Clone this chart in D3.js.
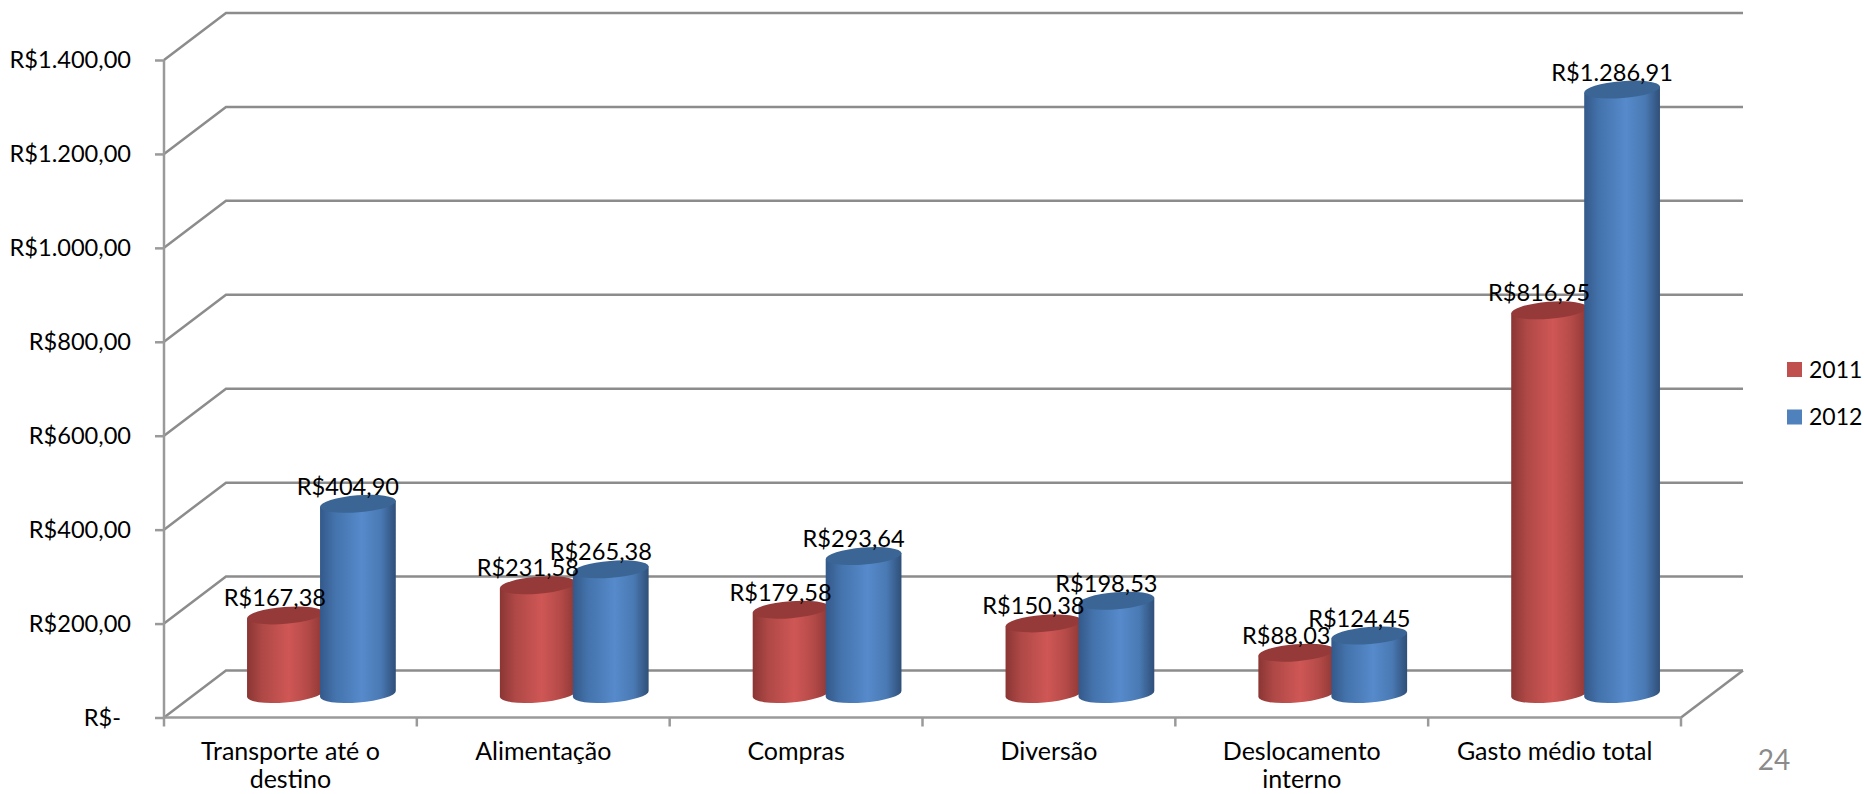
<!DOCTYPE html>
<html>
<head>
<meta charset="utf-8">
<script src="https://cdn.jsdelivr.net/npm/d3@7"></script>
<style>
    html, body { margin: 0; padding: 0; background: #fff; overflow: hidden; }
    text { font-family: Lato, "Open Sans", sans-serif; fill: #000; }
</style>
</head>
<body>
<div id="chart"></div>
<script>
var categories = ["Transporte até o destino", "Alimentação", "Compras", "Diversão", "Deslocamento interno", "Gasto médio total"];
var seriesNames = ["2011", "2012"];
var values2011 = [167.38, 231.58, 179.58, 150.38, 88.03, 816.95];
var values2012 = [404.90, 265.38, 293.64, 198.53, 124.45, 1286.91];
var yTicks = [0, 200, 400, 600, 800, 1000, 1200, 1400];
var pageNumber = "24";

var width = 1864,
    height = 794;

// plot box of the front face, the walls are pushed back by depth
var plot = { left: 164, right: 1681, top: 60, bottom: 717.5 },
    depth = { x: 62, y: 47 };

var fontSize = 23.6;
var catFontSize = 25;
var barStep = 73;
var barWidth = 76;
var tilt = 4.6; // the ellipses lean a bit, left side lower
var ry = 8.5;

var xScale = d3.scaleBand()
    .domain(categories)
    .range([plot.left, plot.right]);

var xSeries = d3.scaleBand()
    .domain(seriesNames)
    .range([-barStep, barStep]);

var yScale = d3.scaleLinear()
    .domain([0, 1400])
    .range([plot.bottom, plot.top]);

var barColors = d3.scaleOrdinal()
    .domain(seriesNames)
    .range(["#C0504D", "#4F81BD"]);

var topColors = d3.scaleOrdinal()
    .domain(seriesNames)
    .range(["#953A38", "#3A6595"]);

var gradients = {
    "2011": [[0, "#8A3634"], [0.2, "#AE4846"], [0.55, "#CF5755"], [0.8, "#B44A48"], [1, "#8E3836"]],
    "2012": [[0, "#34598A"], [0.2, "#4473AC"], [0.55, "#568ACB"], [0.8, "#4A7AB4"], [1, "#2F4F78"]]
};

var svg = d3.select("#chart").append("svg")
    .attr("width", width)
    .attr("height", height);

var defs = svg.append("defs");
seriesNames.forEach(function (name) {
    var grad = defs.append("linearGradient")
        .attr("id", "grad" + name)
        .attr("x1", 0).attr("x2", 1).attr("y1", 0).attr("y2", 0);
    gradients[name].forEach(function (s) {
        grad.append("stop").attr("offset", s[0]).attr("stop-color", s[1]);
    });
});

// walls and floor
var grid = svg.append("g").attr("fill", "none").attr("stroke", "#8C8C8C").attr("stroke-width", 2.5);

grid.selectAll("path")
    .data(yTicks)
    .enter().append("path")
    .attr("d", function (d) {
        var y = yScale(d);
        return "M" + plot.left + "," + y +
            "L" + (plot.left + depth.x) + "," + (y - depth.y) +
            "H" + (plot.right + depth.x);
    });

grid.append("path")
    .attr("d", "M" + plot.right + "," + plot.bottom +
        "L" + (plot.right + depth.x) + "," + (plot.bottom - depth.y));

// y axis
var yAxis = svg.append("g")
    .attr("transform", "translate(" + plot.left + ",0)")
    .call(d3.axisLeft(yScale)
        .tickValues(yTicks)
        .tickSize(9)
        .tickPadding(24)
        .tickFormat(function (d) {
            if (d === 0) return "R$-";
            return "R$" + d3.format(",.2f")(d).replace(/,/g, "#").replace(".", ",").replace("#", ".");
        }));

yAxis.selectAll("path, line").attr("stroke", "#9A9A9A").attr("stroke-width", 2.5);
yAxis.select(".domain").attr("d", "M0," + plot.top + "V" + plot.bottom);
yAxis.selectAll("text")
    .style("font-size", fontSize + "px")
    .style("font-family", "Lato")
    .attr("dx", function (d) { return d === 0 ? -10 : 0; });

// x axis, ticks sit on the band edges so they are added by hand from the scale
var xAxis = svg.append("g")
    .attr("transform", "translate(0," + plot.bottom + ")")
    .call(d3.axisBottom(xScale).tickSize(0).tickPadding(0));

xAxis.select(".domain").attr("stroke", "#9A9A9A").attr("stroke-width", 2.5)
    .attr("d", "M" + plot.left + ",0H" + plot.right);

xAxis.selectAll(".edge")
    .data(categories.concat(["end"]))
    .enter().append("line")
    .attr("class", "edge")
    .attr("x1", function (d, i) { return plot.left + i * xScale.step(); })
    .attr("x2", function (d, i) { return plot.left + i * xScale.step(); })
    .attr("y1", 0)
    .attr("y2", 9)
    .attr("stroke", "#9A9A9A")
    .attr("stroke-width", 2.5);

xAxis.selectAll(".tick text")
    .style("font-size", catFontSize + "px")
    .style("font-family", "Lato")
    .attr("y", 0)
    .attr("dy", 0)
    .each(function (d) {
        var label = d3.select(this);
        label.text(null);
        var lines = [], line = [];
        d.split(" ").forEach(function (word) {
            line.push(word);
            label.text(line.join(" "));
            if (this.getComputedTextLength() > 225 && line.length > 1) {
                line.pop();
                lines.push(line.join(" "));
                line = [word];
            }
        }, this);
        lines.push(line.join(" "));
        label.text(null);
        lines.forEach(function (t, i) {
            label.append("tspan").attr("x", 0).attr("y", 42 + i * 28.5).text(t);
        });
    });

// cylinders
var barData = [];
categories.forEach(function (c, i) {
    barData.push({ category: c, name: "2011", value: values2011[i] });
    barData.push({ category: c, name: "2012", value: values2012[i] });
});

var rad = tilt * Math.PI / 180;

function centerX(d) {
    return xScale(d.category) + xScale.bandwidth() / 2 + depth.x / 2 + xSeries(d.name) + xSeries.bandwidth() / 2;
}
function yFor(v) {
    return yScale(v) - depth.y / 2;
}

var bars = svg.append("g").selectAll("g")
    .data(barData)
    .enter().append("g");

bars.append("path")
    .attr("fill", function (d) { return "url(#grad" + d.name + ")"; })
    .attr("d", function (d) {
        var cx = centerX(d),
            rx = barWidth / 2,
            dx = rx * Math.cos(rad),
            dy = rx * Math.sin(rad),
            top = yFor(d.value),
            base = yFor(0);
        return "M" + (cx - dx) + "," + (top + dy) +
            "L" + (cx - dx) + "," + (base + dy) +
            "A" + rx + "," + ry + "," + (-tilt) + ",0,0," + (cx + dx) + "," + (base - dy) +
            "L" + (cx + dx) + "," + (top - dy) + "Z";
    });

bars.append("ellipse")
    .attr("rx", barWidth / 2)
    .attr("ry", ry)
    .attr("fill", function (d) { return topColors(d.name); })
    .attr("transform", function (d) {
        return "translate(" + centerX(d) + "," + yFor(d.value) + ") rotate(" + (-tilt) + ")";
    });

// data labels go last, they overlap the bars
svg.append("g").selectAll("text")
    .data(barData)
    .enter().append("text")
    .attr("x", function (d) { return centerX(d) - 10; })
    .attr("y", function (d) { return yFor(d.value) - 9; })
    .attr("text-anchor", "middle")
    .style("font-size", fontSize + "px")
    .text(function (d) {
        return "R$" + d3.format(",.2f")(d.value).replace(",", "#").replace(".", ",").replace("#", ".");
    });

// legend
var legendY = d3.scalePoint().domain(seriesNames).range([369.5, 417]);

var legend = svg.append("g").selectAll("g")
    .data(seriesNames)
    .enter().append("g")
    .attr("transform", function (d) { return "translate(1787," + legendY(d) + ")"; });

legend.append("rect")
    .attr("y", -7.5)
    .attr("width", 15)
    .attr("height", 15)
    .attr("fill", function (d) { return barColors(d); });

legend.append("text")
    .attr("x", 22)
    .attr("y", 8)
    .style("font-size", "23px")
    .text(function (d) { return d; });

// slide number
svg.append("text")
    .attr("x", 1774)
    .attr("y", 770)
    .attr("text-anchor", "middle")
    .style("font-size", "28px")
    .style("fill", "#8B8B8B")
    .text(pageNumber);
</script>
</body>
</html>
